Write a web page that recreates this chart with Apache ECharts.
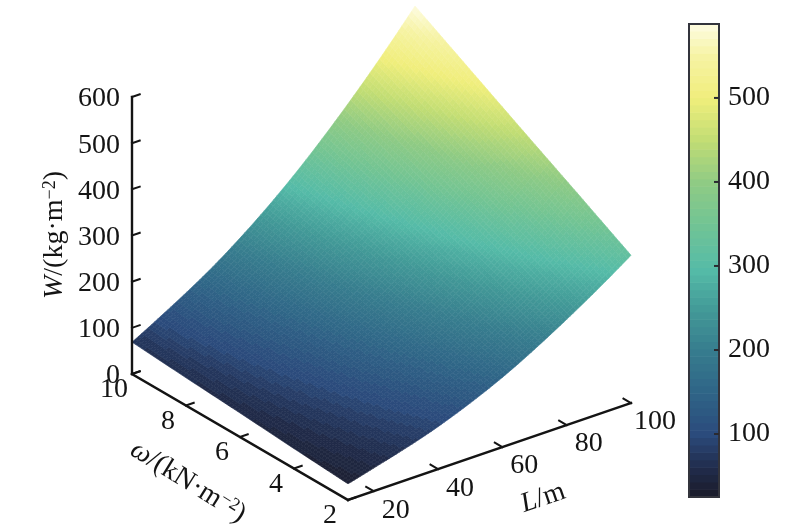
<!DOCTYPE html>
<html><head><meta charset="utf-8">
<style>html,body{margin:0;padding:0;background:#fff}#c{width:800px;height:530px}</style>
<script src="https://cdn.jsdelivr.net/npm/echarts@6/dist/echarts.min.js"></script>
</head><body><div id="c"></div>
<script>
// ---- data ----
const spans = [12, 20, 40, 60, 80, 100];          // L/m
const loads = [2, 4, 6, 8, 10];                   // omega
const W_L12  = [35, 43, 52, 60, 69];
const W_L20  = [50, 62, 75, 88, 100];
const W_L40  = [92, 115, 139, 162, 186];
const W_L60  = [151, 187, 223, 260, 296];
const W_L80  = [229, 280, 330, 381, 431];
const W_L100 = [320, 387, 453, 520, 587];
const wTable = [W_L12, W_L20, W_L40, W_L60, W_L80, W_L100];
const lTicks = [20, 40, 60, 80, 100];
const omegaTicks = [2, 4, 6, 8, 10];
const wTicks = [0, 100, 200, 300, 400, 500, 600];
const barTicks = [100, 200, 300, 400, 500];
const barMin = 25, barMax = 588, bandSize = 8.8;
const rampValues = [25, 60, 100, 150, 200, 250, 295, 350, 400, 450, 500, 550, 588];
const rampColors = ['#1a1b29', '#212c4c', '#2b4b7c', '#2f6587', '#377d8e', '#439b98', '#55bba8', '#72c494', '#90cb84', '#c2dd74', '#f0ee7c', '#f6f3a4', '#fefce2'];

// ---- projection of the 3D box on the page plane ----
const view = { ox: 132, oy: 374, lx: 3.216, ly: -1.102, wx: 27, wy: 15.75, z: 0.4617 };
const FONT = '"Liberation Serif","Times New Roman",serif';
const INK = '#141414';
const FS = 28;

function project(L, om, W) {
  return [view.ox + (L - spans[0]) * view.lx + (10 - om) * view.wx,
          view.oy + (L - spans[0]) * view.ly + (10 - om) * view.wy - W * view.z];
}
function hex(c){return [parseInt(c.slice(1,3),16),parseInt(c.slice(3,5),16),parseInt(c.slice(5,7),16)];}
function colorOf(v, step){
  v = Math.max(barMin, Math.min(barMax, v));
  v = barMin + (Math.floor((v - barMin) / step) + 0.5) * step;
  let k = 0;
  while (k < rampValues.length - 2 && v > rampValues[k + 1]) k++;
  const t = Math.min(1, (v - rampValues[k]) / (rampValues[k + 1] - rampValues[k]));
  const a = hex(rampColors[k]), b = hex(rampColors[k + 1]);
  return 'rgb(' + a.map((x, n) => Math.round(x + (b[n] - x) * t)).join(',') + ')';
}
// surface shading between table nodes
function tangents(y){
  const n = y.length, d = [], h = [];
  for (let i = 0; i < n - 1; i++) { h[i] = spans[i + 1] - spans[i]; d[i] = (y[i + 1] - y[i]) / h[i]; }
  const m = [];
  for (let i = 1; i < n - 1; i++) m[i] = (h[i - 1] * d[i] + h[i] * d[i - 1]) / (h[i - 1] + h[i]);
  m[0] = d[0] + (d[0] - m[1]);
  m[n - 1] = d[n - 2] + (d[n - 2] - m[n - 2]);
  return m;
}
function surf(L, om){
  let j = 0;
  while (j < loads.length - 2 && om > loads[j + 1]) j++;
  const f = (om - loads[j]) / (loads[j + 1] - loads[j]);
  const y = wTable.map(r => r[j] + (r[j + 1] - r[j]) * f);
  const m = tangents(y);
  let i = 0;
  while (i < spans.length - 2 && L > spans[i + 1]) i++;
  const h = spans[i + 1] - spans[i], t = (L - spans[i]) / h;
  const t2 = t * t, t3 = t2 * t;
  return (2*t3-3*t2+1)*y[i] + (t3-2*t2+t)*h*m[i] + (-2*t3+3*t2)*y[i+1] + (t3-t2)*h*m[i+1];
}

const cells = [];
for (let i = 0; i < spans.length - 1; i++) for (let j = 0; j < loads.length - 1; j++) cells.push([i, j]);
const bands = [];
for (let v = barMin; v < barMax; v += bandSize) bands.push([v, Math.min(barMax, v + bandSize)]);

function renderCell(params, api){
  const i = api.value(0), j = api.value(1);
  const nL = Math.round(spans[i + 1] - spans[i]), nO = 18;
  const kids = [];
  for (let a = 0; a < nL; a++) for (let b = 0; b < nO; b++) {
    const L0 = spans[i] + (spans[i + 1] - spans[i]) * a / nL, L1 = spans[i] + (spans[i + 1] - spans[i]) * (a + 1) / nL;
    const O0 = loads[j] + (loads[j + 1] - loads[j]) * b / nO, O1 = loads[j] + (loads[j + 1] - loads[j]) * (b + 1) / nO;
    const pts = [[L0, O0], [L1, O0], [L1, O1], [L0, O1]].map(q => api.coord(project(q[0], q[1], surf(q[0], q[1]))));
    const mid = surf((L0 + L1) / 2, (O0 + O1) / 2);
    const col = colorOf(mid, mid < 150 ? bandSize : bandSize / 3);
    kids.push({ type: 'polygon', shape: { points: pts }, style: { fill: col, stroke: col, lineWidth: 0.6 }, silent: true });
  }
  return { type: 'group', children: kids };
}
function seg(api, a, b, w){
  const p = api.coord(a), q = api.coord(b);
  return { type: 'line', shape: { x1: p[0], y1: p[1], x2: q[0], y2: q[1] }, style: { stroke: INK, lineWidth: w || 2.4, lineCap: 'square' } };
}
function label(api, at, dx, dy, text, align){
  const p = api.coord(at);
  return { type: 'text', x: p[0] + dx, y: p[1] + dy, style: { text: String(text), fontFamily: FONT, fontSize: FS, fill: INK, align: align || 'center', verticalAlign: 'middle' } };
}
function renderLTick(params, api){
  const L = api.value(0), kids = [];
  if (params.dataIndex === 0) kids.push(seg(api, project(spans[0], 2, 0), project(100, 2, 0)));
  kids.push(seg(api, project(L, 2, 0), project(L, 2.28, 0), 2));
  kids.push(label(api, project(L, 2, 0), L === 100 ? 24 : 22, 19, L));
  return { type: 'group', children: kids };
}
function renderOTick(params, api){
  const om = api.value(0), kids = [];
  if (params.dataIndex === 0) kids.push(seg(api, project(spans[0], 10, 0), project(spans[0], 2, 0)));
  kids.push(seg(api, project(spans[0], om, 0), project(spans[0] + 2.4, om, 0), 2));
  kids.push(label(api, project(spans[0], om, 0), -18, 16, om));
  return { type: 'group', children: kids };
}
function renderWTick(params, api){
  const w = api.value(0), kids = [];
  if (params.dataIndex === 0) kids.push(seg(api, project(spans[0], 10, 0), project(spans[0], 10, 600)));
  kids.push(seg(api, project(spans[0], 10, w), project(spans[0] + 2.4, 10, w), 2));
  kids.push(label(api, project(spans[0], 10, w), -12, 2, w, 'right'));
  return { type: 'group', children: kids };
}
const rich = {
  i: { fontFamily: FONT, fontSize: 28, fontStyle: 'italic', fill: INK },
  t: { fontFamily: FONT, fontSize: 28, fill: INK },
  s: { fontFamily: FONT, fontSize: 18, fill: INK, verticalAlign: 'top', lineHeight: 28 }
};
const titles = [
  { text: '{i|L}{t|/m}', at: [543, 498], rot: Math.atan(view.ly / -view.lx) },
  { text: '{i|ω}{t|/(kN·m}{s|−2}{t|)}', at: [188, 482], rot: -Math.atan(view.wy / view.wx) - 0.03 },
  { text: '{i|W}{t|/(kg·m}{s|−2}{t|)}', at: [55, 235], rot: Math.PI / 2 }
];
function renderTitle(params, api){
  const d = titles[params.dataIndex], p = api.coord(d.at);
  return { type: 'text', x: p[0], y: p[1], rotation: d.rot, style: { text: d.text, rich: rich, align: 'center', verticalAlign: 'middle' } };
}
function renderBand(params, api){
  const a = api.coord([0, api.value(0)]), b = api.coord([1, api.value(1)]);
  const col = colorOf((api.value(0) + api.value(1)) / 2, bandSize);
  return { type: 'rect', shape: { x: a[0], y: b[1] - 0.3, width: b[0] - a[0], height: a[1] - b[1] + 0.6 }, style: { fill: col } };
}
function renderFrame(params, api){
  const a = api.coord([0, barMin]), b = api.coord([1, barMax]);
  return { type: 'rect', shape: { x: a[0], y: b[1], width: b[0] - a[0], height: a[1] - b[1] }, style: { fill: 'none', stroke: '#33343c', lineWidth: 2 } };
}
function renderBarTick(params, api){
  const a = api.coord([1, api.value(0)]);
  return { type: 'line', shape: { x1: a[0] - 5, y1: a[1], x2: a[0], y2: a[1] }, style: { stroke: '#2a2a30', lineWidth: 2 } };
}
const plane = { coordinateSystem: 'cartesian2d', xAxisIndex: 0, yAxisIndex: 0, type: 'custom', clip: false, silent: true, animation: false };
const barSer = { coordinateSystem: 'cartesian2d', xAxisIndex: 1, yAxisIndex: 1, type: 'custom', clip: false, silent: true, animation: false };

const chart = echarts.init(document.getElementById('c'), null, { renderer: 'canvas' });
chart.setOption({
  animation: false,
  backgroundColor: '#fff',
  grid: [
    { left: 0, top: 0, width: 800, height: 530 },
    { left: 689, top: 24, width: 30, height: 473 }
  ],
  xAxis: [
    { type: 'value', gridIndex: 0, min: 0, max: 800, show: false },
    { type: 'value', gridIndex: 1, min: 0, max: 1, show: false }
  ],
  yAxis: [
    { type: 'value', gridIndex: 0, min: 0, max: 530, inverse: true, show: false },
    { type: 'value', gridIndex: 1, min: barMin, max: barMax, position: 'right', splitLine: { show: false },
      axisLine: { show: false },
      axisTick: { show: false },
      axisLabel: { show: true, customValues: barTicks, fontFamily: FONT, fontSize: FS, color: INK, margin: 9, align: 'left', padding: [0, 0, 3, 0], formatter: v => String(v) } }
  ],
  series: [
    Object.assign({ name: 'surface', data: cells, renderItem: renderCell, z: 2 }, plane),
    Object.assign({ name: 'L axis', data: lTicks.map(v => [v]), renderItem: renderLTick, z: 3 }, plane),
    Object.assign({ name: 'omega axis', data: omegaTicks.map(v => [v]), renderItem: renderOTick, z: 3 }, plane),
    Object.assign({ name: 'W axis', data: wTicks.map(v => [v]), renderItem: renderWTick, z: 3 }, plane),
    Object.assign({ name: 'titles', data: titles.map((t, i) => [i]), renderItem: renderTitle, z: 3 }, plane),
    Object.assign({ name: 'colorbar', data: bands, renderItem: renderBand, z: 2 }, barSer),
    Object.assign({ name: 'frame', data: [[0]], renderItem: renderFrame, z: 4 }, barSer),
    Object.assign({ name: 'colorbar ticks', data: barTicks.map(v => [v]), renderItem: renderBarTick, z: 5 }, barSer)
  ]
});
</script></body></html>
